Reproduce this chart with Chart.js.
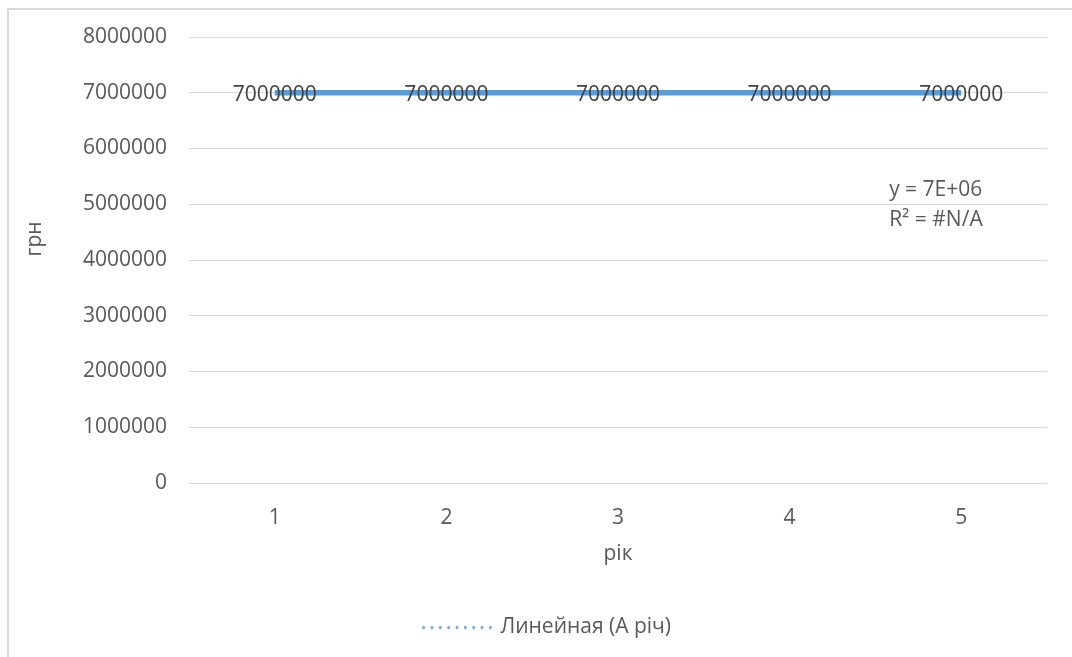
<!DOCTYPE html>
<html>
<head>
<meta charset="utf-8">
<script src="https://cdn.jsdelivr.net/npm/chart.js@4/dist/chart.umd.min.js"></script>
<style>
  html, body { margin: 0; padding: 0; background: #ffffff; }
  #wrap { position: absolute; left: 0; top: 0; width: 1072px; height: 657px; }
</style>
</head>
<body>
<div id="wrap"><canvas id="chart"></canvas></div>
<script>
// Years on the category axis
const years = ['1', '2', '3', '4', '5'];
// Annual amount, грн
const annualValues = [7000000, 7000000, 7000000, 7000000, 7000000];
// Linear trend fitted to the annual amounts (y = 7E+06)
const trendValues = [7000000, 7000000, 7000000, 7000000, 7000000];
// Value axis ticks
const yTicks = [0, 1000000, 2000000, 3000000, 4000000, 5000000, 6000000, 7000000, 8000000];
// Trendline equation box
const trendEquation = ['y = 7E+06', 'R\u00B2 = #N/A'];
// Axis titles
const xTitle = 'рік';
const yTitle = 'грн';

const FONT = 'Open Sans';
const BLUE = '#5B9BD5';
const TEXT = '#595959';
const GRID = '#D9D9D9';

// dotted swatch for the trendline legend entry
const swatch = document.createElement('canvas');
swatch.width = 70; swatch.height = 6;
(function () {
  const c = swatch.getContext('2d');
  c.fillStyle = BLUE;
  for (let i = 0; i < 9; i++) {
    c.beginPath();
    c.arc(1.6 + i * 8.35, 3, 1.5, 0, Math.PI * 2);
    c.fill();
  }
})();

// outer frame of the chart
const framePlugin = {
  id: 'frame',
  beforeDraw(chart) {
    const ctx = chart.ctx;
    ctx.save();
    ctx.strokeStyle = GRID;
    ctx.lineWidth = 2;
    ctx.beginPath();
    ctx.moveTo(8, 657);
    ctx.lineTo(8, 9);
    ctx.lineTo(1072, 9);
    ctx.stroke();
    ctx.restore();
  }
};

// vertical value-axis title, placed a little above the middle of the plot
const yTitlePlugin = {
  id: 'yTitle',
  afterDraw(chart) {
    const ctx = chart.ctx;
    const area = chart.chartArea;
    ctx.save();
    ctx.font = '21px "' + FONT + '"';
    ctx.fillStyle = TEXT;
    ctx.textAlign = 'center';
    ctx.textBaseline = 'middle';
    ctx.translate(35, (area.top + area.bottom) / 2 - 21);
    ctx.rotate(-Math.PI / 2);
    ctx.fillText(yTitle, 0, 0);
    ctx.restore();
  }
};

// value labels centred on each point of the series
const valueLabels = {
  id: 'valueLabels',
  afterDatasetsDraw(chart) {
    const ctx = chart.ctx;
    const meta = chart.getDatasetMeta(1);
    ctx.save();
    ctx.font = '21px "' + FONT + '"';
    ctx.fillStyle = '#404040';
    ctx.textAlign = 'center';
    ctx.textBaseline = 'middle';
    meta.data.forEach((pt, i) => {
      ctx.fillText(String(annualValues[i]), pt.x, pt.y + 2);
    });
    ctx.restore();
  }
};

// trendline equation and R² text
const equationPlugin = {
  id: 'equation',
  afterDatasetsDraw(chart) {
    const ctx = chart.ctx;
    const xs = chart.scales.x;
    const step = xs.getPixelForValue(4) - xs.getPixelForValue(3);
    const x = xs.getPixelForValue(4) - step * 0.42;
    const y0 = chart.scales.y.getPixelForValue(5000000);
    ctx.save();
    ctx.font = '21px "' + FONT + '"';
    ctx.fillStyle = TEXT;
    ctx.textAlign = 'left';
    ctx.textBaseline = 'middle';
    ctx.fillText(trendEquation[0], x, y0 - 14);
    ctx.fillText(trendEquation[1], x, y0 + 16);
    ctx.restore();
  }
};

// fixed legend band height, legend centred under the plot
const legendBand = {
  id: 'legendBand',
  beforeLayout(chart) {
    const lg = chart.legend;
    if (lg && !lg._bandPatched) {
      const fit = lg.fit.bind(lg);
      lg.fit = function () { fit(); this.height = 50; };
      lg._bandPatched = true;
    }
  },
  afterLayout(chart) {
    const lg = chart.legend;
    if (lg) { lg.left += 24; lg.right += 24; }
  }
};

new Chart(document.getElementById('chart'), {
  type: 'line',
  data: {
    labels: years,
    datasets: [
      {
        label: 'Линейная (А річ)',
        data: trendValues,
        borderColor: BLUE,
        borderWidth: 2,
        borderDash: [2, 6],
        pointRadius: 0,
        fill: false
      },
      {
        label: 'А річ',
        data: annualValues,
        borderColor: BLUE,
        borderWidth: 5.5,
        borderCapStyle: 'butt',
        pointRadius: 0,
        fill: false
      }
    ]
  },
  options: {
    responsive: true,
    maintainAspectRatio: false,
    animation: false,
    layout: { padding: { left: 0, right: 25, top: 37, bottom: 0 } },
    plugins: {
      legend: {
        position: 'bottom',
        labels: {
          filter: (item) => item.datasetIndex === 0,
          usePointStyle: true,
          pointStyle: swatch,
          pointStyleWidth: 66,
          color: TEXT,
          font: { family: FONT, size: 21 },
          padding: 10
        }
      },
      tooltip: { enabled: false }
    },
    scales: {
      x: {
        offset: true,
        grid: { display: false, drawTicks: false },
        border: { display: false },
        ticks: { color: TEXT, font: { family: FONT, size: 21 }, padding: 22 },
        title: {
          display: true, text: xTitle, color: TEXT,
          font: { family: FONT, size: 21 }, padding: { top: 0, bottom: 40 }
        },
        afterFit(scale) { scale.height = 124; }
      },
      y: {
        min: 0, max: 8000000,
        afterBuildTicks(scale) { scale.ticks = yTicks.map(v => ({ value: v })); },
        grid: { color: GRID, lineWidth: 1, drawTicks: false },
        border: { display: false },
        ticks: {
          color: TEXT, font: { family: FONT, size: 21 }, padding: 22,
          callback: (v) => String(v)
        },
        title: { display: false },
        afterFit(scale) { scale.width = 189; }
      }
    }
  },
  plugins: [framePlugin, valueLabels, equationPlugin, yTitlePlugin, legendBand]
});
</script>
</body>
</html>
